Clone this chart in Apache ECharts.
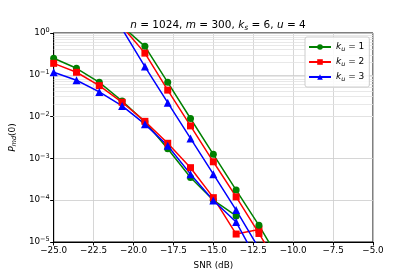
<!DOCTYPE html>
<html><head><meta charset="utf-8">
<script src="https://cdn.jsdelivr.net/npm/echarts@6/dist/echarts.min.js"></script>
<style>html,body{margin:0;padding:0;background:#fff}#c{width:415px;height:277px}</style>
</head><body><div id="c"></div>
<script>
// SNR grid (dB)
const snr = [-25, -23.571, -22.143, -20.714, -19.286, -17.857, -16.429, -15, -13.571, -12.143, -10.714];
// lower (flatter) curves
const ku1Low = [0.248, 0.143, 0.066, 0.0236, 0.0075, 0.0017, 3.5e-4, 1.0e-4, 4.2e-5, null, null];
const ku2Low = [0.188, 0.115, 0.055, 0.022, 0.0077, 0.0023, 6.0e-4, 1.15e-4, 1.55e-5, 2.0e-5, null];
const ku3Low = [0.115, 0.074, 0.039, 0.018, 0.0066, 0.0020, 4.2e-4, 9.8e-5, 3.0e-5, 3.0e-6, null];
// steep curves
const ku1Steep = [null, null, null, 1.45, 0.48, 0.066, 0.0090, 1.25e-3, 1.75e-4, 2.5e-5, 3.0e-6];
const ku2Steep = [null, null, null, 1.43, 0.33, 0.043, 0.0060, 8.3e-4, 1.2e-4, 1.6e-5, 2.0e-6];
const ku3Steep = [null, null, null, 1.25, 0.157, 0.0215, 0.0030, 4.2e-4, 5.8e-5, 7.0e-6, null];
const seriesNames = ['ku1', 'ku2', 'ku3'];
const legendLabels = ['1', '2', '3'];
const colors = ['#008000', '#ff0000', '#0000ff'];
const symbols = ['circle', 'rect', 'triangle'];
const xTicks = [-25, -22.5, -20, -17.5, -15, -12.5, -10, -7.5, -5];
const minorY = [];
for (let k = -5; k < 0; k++) for (let m = 2; m <= 9; m++) minorY.push(m * Math.pow(10, k));

const pairs = arr => arr.map((v, i) => v == null ? null : [snr[i], v]).filter(p => p);
const minus = s => String(s).replace('-', '\u2212');

const chart = echarts.init(document.getElementById('c'), null, {renderer: 'canvas'});
const FONT = 'DejaVu Sans';
const mk = (name, data, idx) => ({
  name: name, type: 'line', data: pairs(data), z: 3,
  symbol: symbols[idx], symbolSize: idx === 2 ? 8 : 7,
  lineStyle: {color: colors[idx], width: 1.5},
  itemStyle: {color: colors[idx]},
  clip: true, animation: false
});
const series = [
  {type: 'line', data: [], z: 1, silent: true, animation: false,
   markLine: {silent: true, symbol: 'none', label: {show: false}, animation: false, z: 1,
     lineStyle: {color: '#e2e2e2', width: 0.8, type: 'solid'},
     data: minorY.map(v => ({yAxis: v}))}},
  mk(seriesNames[0], ku1Low, 0), mk(seriesNames[1], ku2Low, 1), mk(seriesNames[2], ku3Low, 2),
  mk(seriesNames[0], ku1Steep, 0), mk(seriesNames[1], ku2Steep, 1), mk(seriesNames[2], ku3Steep, 2)
];
chart.setOption({
  animation: false,
  backgroundColor: '#fff',
  textStyle: {fontFamily: FONT},
  title: {
    text: '{i|n} = 1024, {i|m} = 300, {i|k}{sub|s} = 6, {i|u} = 4',
    left: 213, top: 14, textAlign: 'center',
    textStyle: {fontFamily: FONT, fontSize: 10.5, fontWeight: 'normal', color: '#000',
      rich: {i: {fontStyle: 'italic', fontSize: 10.5, fontFamily: FONT},
             sub: {fontStyle: 'italic', fontSize: 7.5, fontFamily: FONT, padding: [5, 0, 0, 0]}}}
  },
  legend: {
    data: seriesNames, orient: 'vertical', left: 305, top: 37,
    itemWidth: 22, itemHeight: 7, itemGap: 3,
    padding: [4, 5, 4, 3],
    borderColor: '#cccccc', borderWidth: 1, borderRadius: 2, backgroundColor: 'rgba(255,255,255,0.85)',
    formatter: name => '{i|k}{sub|u} = ' + legendLabels[seriesNames.indexOf(name)],
    textStyle: {fontFamily: FONT, fontSize: 9, color: '#000', lineHeight: 12,
      rich: {i: {fontStyle: 'italic', fontSize: 9, fontFamily: FONT},
             sub: {fontStyle: 'italic', fontSize: 6.5, fontFamily: FONT, padding: [4, 0, 0, 0]}}}
  },
  grid: {left: 53, right: 42, top: 33, bottom: 35, show: true, borderColor: '#000', borderWidth: 1, backgroundColor: 'transparent'},
  xAxis: {
    type: 'value', min: -25, max: -5, interval: 2.5,
    name: 'SNR (dB)', nameLocation: 'middle', nameGap: 19,
    nameTextStyle: {fontFamily: FONT, fontSize: 8.8, color: '#000'},
    axisLine: {lineStyle: {color: '#000', width: 1}},
    axisTick: {lineStyle: {color: '#000'}, length: 3.5},
    axisLabel: {fontFamily: FONT, fontSize: 8.8, color: '#000', margin: 4,
      formatter: v => minus(v.toFixed(1))},
    splitLine: {show: true, lineStyle: {color: '#cccccc', width: 0.8}}
  },
  yAxis: {
    type: 'log', logBase: 10, min: 1e-5, max: 1,
    name: '{i|P}{sub|md}(0)', nameLocation: 'middle', nameRotate: 90, nameGap: 31,
    nameTextStyle: {fontFamily: FONT, fontSize: 9, color: '#000',
      rich: {i: {fontStyle: 'italic', fontSize: 9, fontFamily: FONT},
             sub: {fontStyle: 'italic', fontSize: 6.5, fontFamily: FONT, padding: [4, 0, 0, 0]}}},
    axisLine: {show: true, lineStyle: {color: '#000', width: 1}},
    axisTick: {show: true, lineStyle: {color: '#000'}, length: 3.5},
    axisLabel: {fontFamily: FONT, fontSize: 8.8, color: '#000', margin: 4,
      formatter: v => '10{sup|' + minus(Math.round(Math.log10(v))) + '}',
      rich: {sup: {fontSize: 6.5, fontFamily: FONT, padding: [0, 0, 5, 0]}}},
    splitLine: {show: true, lineStyle: {color: '#cccccc', width: 0.8}}
  },
  series: series
});
</script></body></html>
